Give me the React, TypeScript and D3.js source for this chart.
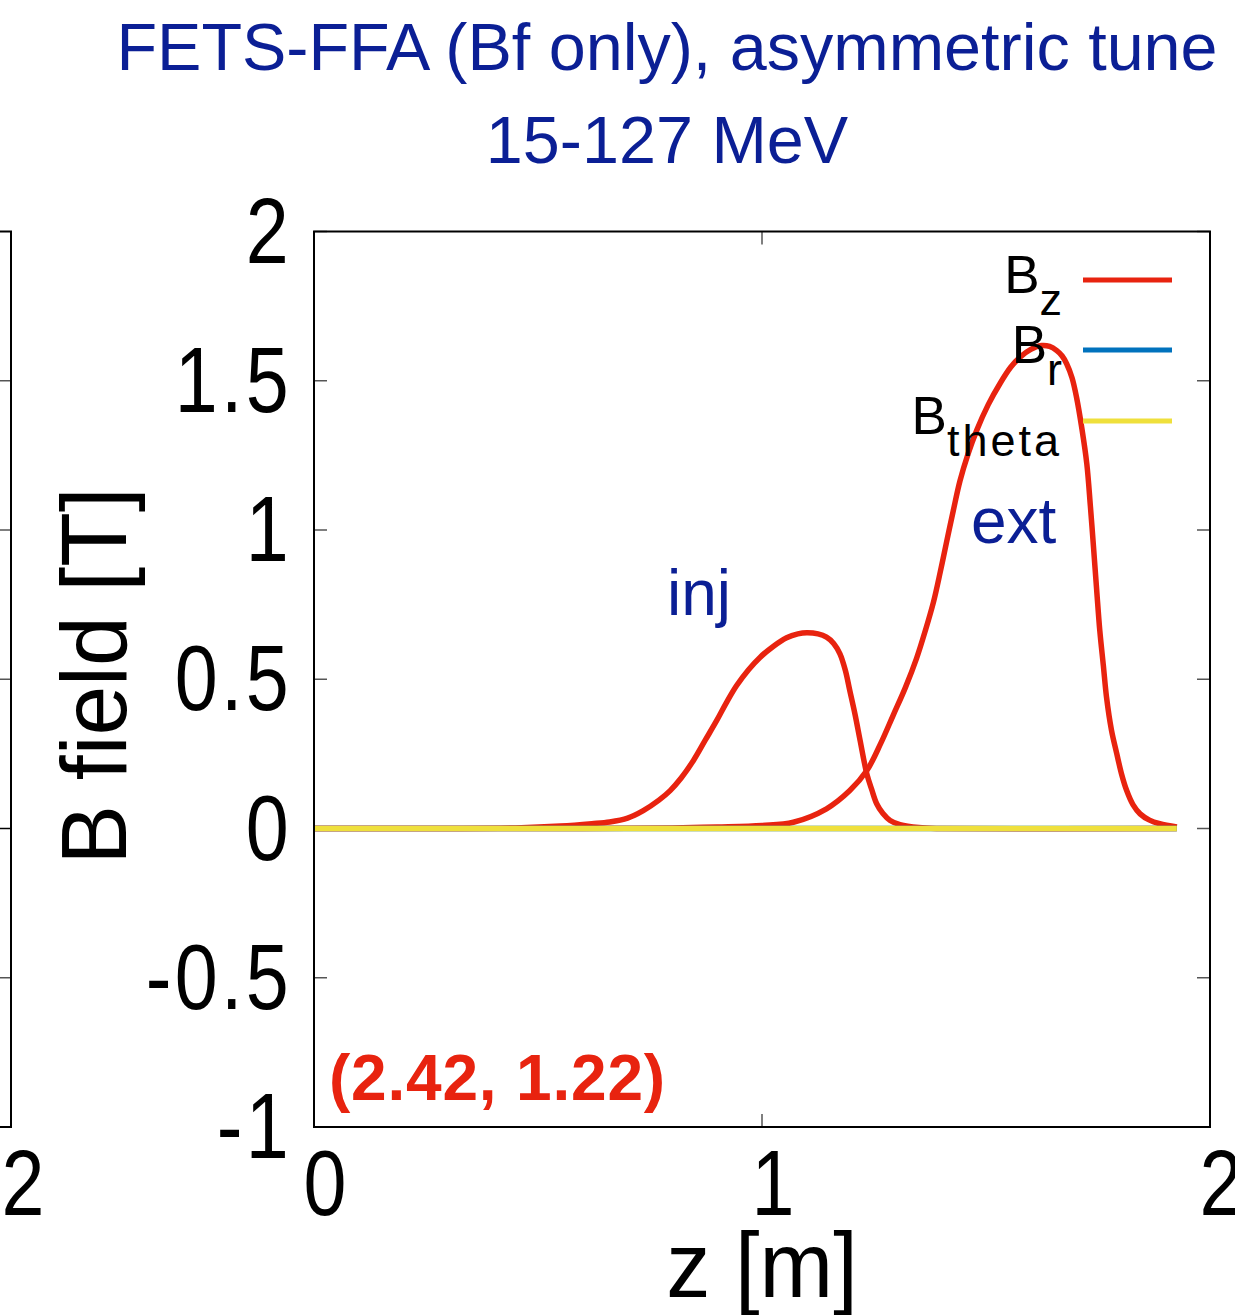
import React from "react";
import * as d3 from "d3";

const W = 1235;
const H = 1315;

// Injection Bz profile (z [m], Bz [T])
const injZ = [0, 0.3, 0.45, 0.55, 0.62, 0.66, 0.7, 0.735, 0.77, 0.795, 0.82, 0.847, 0.873, 0.899, 0.92, 0.943, 0.97, 0.996, 1.025, 1.055, 1.08, 1.1, 1.125, 1.144, 1.16, 1.174, 1.186, 1.196, 1.208, 1.219, 1.234, 1.245, 1.256, 1.27, 1.286, 1.308, 1.35, 1.4, 1.926];
const injBz = [0, 0, 0.002, 0.008, 0.016, 0.022, 0.035, 0.06, 0.095, 0.127, 0.17, 0.228, 0.295, 0.362, 0.42, 0.478, 0.532, 0.574, 0.61, 0.639, 0.652, 0.656, 0.652, 0.641, 0.62, 0.585, 0.53, 0.462, 0.38, 0.295, 0.183, 0.13, 0.083, 0.05, 0.027, 0.013, 0.003, 0, 0];

// Extraction Bz profile
const extZ = [0, 0.6, 0.8, 0.9, 1.0, 1.07, 1.144, 1.196, 1.234, 1.265, 1.293, 1.32, 1.345, 1.365, 1.383, 1.398, 1.412, 1.427, 1.442, 1.46, 1.479, 1.505, 1.531, 1.555, 1.576, 1.6, 1.624, 1.642, 1.658, 1.67, 1.68, 1.692, 1.702, 1.714, 1.725, 1.733, 1.74, 1.747, 1.754, 1.762, 1.769, 1.78, 1.792, 1.803, 1.814, 1.828, 1.844, 1.865, 1.888, 1.926];
const extBz = [0, 0, 0.002, 0.005, 0.01, 0.021, 0.066, 0.127, 0.194, 0.285, 0.38, 0.472, 0.57, 0.665, 0.76, 0.86, 0.96, 1.065, 1.165, 1.255, 1.333, 1.42, 1.49, 1.545, 1.579, 1.605, 1.618, 1.615, 1.601, 1.583, 1.557, 1.51, 1.445, 1.34, 1.222, 1.08, 0.942, 0.8, 0.663, 0.545, 0.44, 0.33, 0.25, 0.18, 0.127, 0.08, 0.049, 0.028, 0.016, 0.005];

// Br and Btheta (zero along the whole path)
const flatZ = [0, 1.926];
const brVals = [0, 0];
const bthetaVals = [0, 0];

const xTicks = [0, 1, 2];
const yTicks = [-1, -0.5, 0, 0.5, 1, 1.5, 2];
const yTickLabels = ["-1", "-0.5", "0", "0.5", "1", "1.5", "2"];

const titleLines = ["FETS-FFA (Bf only), asymmetric tune", "15-127 MeV"];
const annotation = "(2.42, 1.22)";
const legendMain = ["B", "B", "B"];
const legendSub = ["z", "r", "theta"];

const RED = "#e8230f";
const BLUE = "#0072bd";
const YELLOW = "#efe03c";
const NAVY = "#0b1f95";
const SANS = "'Liberation Sans', Arial, Helvetica, sans-serif";

function NText({
  x,
  y,
  sx,
  size,
  anchor,
  children,
  spacing,
}: {
  x: number;
  y: number;
  sx: number;
  size: number;
  anchor: string;
  children: React.ReactNode;
  spacing?: number;
}) {
  return (
    <g transform={`translate(${x},${y}) scale(${sx},1)`}>
      <text x={0} y={0} fontFamily={SANS} fontSize={size} textAnchor={anchor} letterSpacing={spacing || 0} fill="#000">
        {children}
      </text>
    </g>
  );
}

export default function App() {
  const left = 314, right = 1210, top = 231.5, bottom = 1127;
  const x = d3.scaleLinear().domain([0, 2]).range([left, right]);
  const y = d3.scaleLinear().domain([-1, 2]).range([bottom, top]);
  const line = d3
    .line<[number, number]>()
    .x((d) => x(d[0]))
    .y((d) => y(d[1]))
    .curve(d3.curveCatmullRom.alpha(0.5));

  const inj = injZ.map((z, i) => [z, injBz[i]] as [number, number]);
  const ext = extZ.map((z, i) => [z, extBz[i]] as [number, number]);
  const br = flatZ.map((z, i) => [z, brVals[i]] as [number, number]);
  const bth = flatZ.map((z, i) => [z, bthetaVals[i]] as [number, number]);

  const tickLen = 13;
  const legendColors = [RED, BLUE, YELLOW];
  const legendY = [280, 350, 421];
  const TICK_SX = 0.83;

  return (
    <svg
      width={W}
      height={H}
      style={{ position: "absolute", left: 0, top: 0, background: "#fff" }}
    >
      <rect x={0} y={0} width={W} height={H} fill="#fff" />

      {/* Partial left panel */}
      <path d={`M0,${top}H11V${bottom}H0`} fill="none" stroke="#000" strokeWidth={2} />
      {yTicks.slice(1, -1).map((t) => (
        <line key={"lp" + t} x1={0} x2={10} y1={y(t)} y2={y(t)} stroke={t === 0 ? "#000" : "#555"} strokeWidth={1.5} />
      ))}
      <NText x={23} y={1215} sx={TICK_SX} size={93} anchor="middle">2</NText>

      {/* Title */}
      {titleLines.map((t, i) => (
        <text key={t} x={667} y={70 + i * 93} fontFamily={SANS} fontSize={66.5} textAnchor="middle" fill={NAVY}>
          {t}
        </text>
      ))}

      {/* Ticks */}
      {yTicks.map((t) => (
        <g key={"yt" + t}>
          <line x1={left} x2={left + tickLen} y1={y(t)} y2={y(t)} stroke="#555" strokeWidth={1.5} />
          <line x1={right} x2={right - tickLen} y1={y(t)} y2={y(t)} stroke="#555" strokeWidth={1.5} />
        </g>
      ))}
      {xTicks.map((t) => (
        <g key={"xt" + t}>
          <line x1={x(t)} x2={x(t)} y1={top} y2={top + tickLen} stroke="#555" strokeWidth={1.5} />
          <line x1={x(t)} x2={x(t)} y1={bottom} y2={bottom - tickLen} stroke="#555" strokeWidth={1.5} />
        </g>
      ))}

      {/* Tick labels */}
      {yTicks.map((t, i) => (
        <NText key={"yl" + t} x={292} y={y(t) + 31} sx={TICK_SX} size={93} anchor="end" spacing={4}>
          {yTickLabels[i]}
        </NText>
      ))}
      {xTicks.map((t) => (
        <NText key={"xl" + t} x={x(t) + 11} y={1215} sx={TICK_SX} size={93} anchor="middle">
          {String(t)}
        </NText>
      ))}

      {/* Axis labels */}
      <g transform="translate(126,676) rotate(-90) scale(0.96,1)">
        <text x={0} y={0} fontFamily={SANS} fontSize={93} textAnchor="middle" fill="#000">
          B field [T]
        </text>
      </g>
      <NText x={762} y={1297} sx={0.95} size={93} anchor="middle">z [m]</NText>

      {/* Data */}
      <g fill="none" strokeLinejoin="round" strokeLinecap="butt">
        <path d={line(inj) || ""} stroke={RED} strokeWidth={5.5} />
        <path d={line(ext) || ""} stroke={RED} strokeWidth={5.5} />
        <path d={line(br) || ""} stroke={BLUE} strokeWidth={5.5} />
        <path d={line(bth) || ""} stroke={YELLOW} strokeWidth={5.5} />
      </g>

      {/* Annotations */}
      <text x={667} y={615} fontFamily={SANS} fontSize={64} fill={NAVY}>inj</text>
      <text x={971} y={543} fontFamily={SANS} fontSize={64} fill={NAVY}>ext</text>
      <text x={329} y={1100} fontFamily={SANS} fontSize={64} fontWeight="bold" letterSpacing={0.8} fill={RED}>
        {annotation}
      </text>

      {/* Legend */}
      {legendSub.map((sub, i) => (
        <g key={sub}>
          <text x={1062} y={legendY[i] + 13} fontFamily={SANS} fontSize={53} textAnchor="end" fill="#000">
            <tspan>{legendMain[i]}</tspan>
            <tspan dy={22} fontSize={45} letterSpacing={sub.length > 1 ? 3 : 0}>{sub}</tspan>
          </text>
          <line x1={1083} x2={1172} y1={legendY[i]} y2={legendY[i]} stroke={legendColors[i]} strokeWidth={5} />
        </g>
      ))}

      {/* Frame */}
      <rect x={left} y={top} width={right - left} height={bottom - top} fill="none" stroke="#000" strokeWidth={2} />
    </svg>
  );
}
